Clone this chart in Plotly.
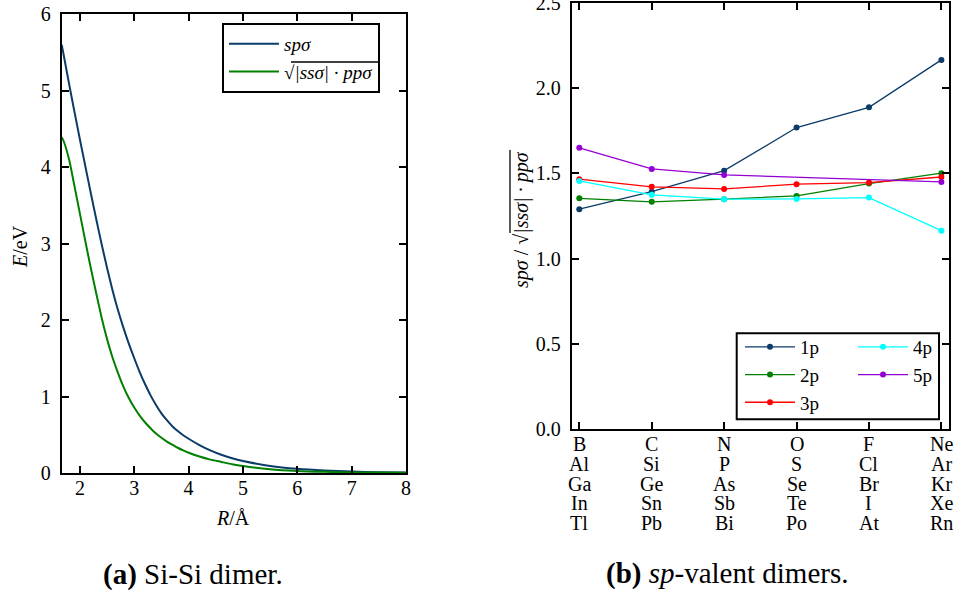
import plotly.graph_objects as go

# ---- (a) Si-Si dimer: hopping integrals vs. bond length ----
R = [1.665, 1.7, 1.8, 1.9, 2.0, 2.1, 2.2, 2.3, 2.4, 2.5, 2.6, 2.7, 2.8, 2.9, 3.0,
     3.1, 3.2, 3.3, 3.4, 3.5, 3.6, 3.7, 3.8, 3.9, 4.0, 4.2, 4.4, 4.6, 4.8, 5.0,
     5.5, 6.0, 6.5, 7.0, 7.5, 8.0]
sp_sigma = [5.60, 5.47, 5.09, 4.72, 4.36, 4.01, 3.66, 3.32, 2.99, 2.68, 2.39, 2.13,
            1.90, 1.69, 1.50, 1.32, 1.16, 1.015, 0.89, 0.78, 0.69, 0.612, 0.548,
            0.494, 0.448, 0.365, 0.295, 0.238, 0.193, 0.157, 0.092, 0.054, 0.032,
            0.019, 0.011, 0.006]
ss_pp_geo = [4.39, 4.34, 4.10, 3.75, 3.39, 3.03, 2.68, 2.35, 2.03, 1.75, 1.51, 1.31,
             1.13, 0.98, 0.855, 0.75, 0.66, 0.585, 0.515, 0.46, 0.41, 0.37, 0.33,
             0.295, 0.265, 0.215, 0.175, 0.145, 0.115, 0.092, 0.050, 0.027, 0.015,
             0.008, 0.005, 0.003]

# ---- (b) sp-valent dimers: ratio per group, one series per period ----
groups = [0, 1, 2, 3, 4, 5]
element_rows = [
    ["B", "C", "N", "O", "F", "Ne"],
    ["Al", "Si", "P", "S", "Cl", "Ar"],
    ["Ga", "Ge", "As", "Se", "Br", "Kr"],
    ["In", "Sn", "Sb", "Te", "I", "Xe"],
    ["Tl", "Pb", "Bi", "Po", "At", "Rn"],
]
series_names = ["1p", "2p", "3p", "4p", "5p"]
ratio_1p = [1.290, 1.393, 1.516, 1.769, 1.888, 2.166]
ratio_2p = [1.354, 1.333, 1.349, 1.368, 1.440, 1.501]
ratio_3p = [1.466, 1.421, 1.409, 1.437, 1.446, 1.479]
ratio_4p = [1.456, 1.374, 1.349, 1.350, 1.358, 1.164]
ratio_5p = [1.650, 1.526, 1.491, None, None, 1.450]
series_values = [ratio_1p, ratio_2p, ratio_3p, ratio_4p, ratio_5p]

DARK_BLUE = "#0b3b68"
GREEN = "#008000"
series_colors = [DARK_BLUE, GREEN, "#ff0000", "#00ffff", "#9400d3"]
series_legend = ["legend2", "legend2", "legend2", "legend3", "legend3"]

FONT = "Liberation Serif, DejaVu Serif, serif"
FS = 20
LEG_FS = 19
W, H = 957, 595


def px_x(p):
    return p / W


def px_y(p):
    return (H - p) / H


sqrt_label = "√<i>|ssσ| · ppσ</i>"

fig = go.Figure()

fig.add_trace(go.Scatter(x=R, y=sp_sigma, mode="lines", name="<i>spσ</i>",
                         line=dict(color=DARK_BLUE, width=2, shape="spline", smoothing=0.6),
                         xaxis="x", yaxis="y", legend="legend"))
fig.add_trace(go.Scatter(x=R, y=ss_pp_geo, mode="lines", name=sqrt_label,
                         line=dict(color=GREEN, width=2, shape="spline", smoothing=0.6),
                         xaxis="x", yaxis="y", legend="legend"))

for name, vals, col, lg in zip(series_names, series_values, series_colors, series_legend):
    fig.add_trace(go.Scatter(x=groups, y=vals, mode="lines+markers", name=name,
                             connectgaps=True,
                             line=dict(color=col, width=1.3),
                             marker=dict(color=col, size=6),
                             xaxis="x2", yaxis="y2", legend=lg))

axis_common = dict(showline=True, linecolor="black", linewidth=2, mirror="allticks",
                   ticks="inside", ticklen=7, tickwidth=1.5, tickcolor="black",
                   showgrid=False, zeroline=False, automargin=False,
                   ticklabeloverflow="allow",
                   tickfont=dict(family=FONT, size=FS, color="black"))

legend_common = dict(xanchor="left", yanchor="top", font=dict(family=FONT, size=LEG_FS),
                     itemwidth=50, tracegroupgap=0, bgcolor="rgba(0,0,0,0)")

fig.update_layout(
    width=W, height=H, template="none",
    paper_bgcolor="white", plot_bgcolor="white",
    margin=dict(l=0, r=0, t=0, b=0),
    font=dict(family=FONT, size=FS, color="black"),
    xaxis=dict(domain=[px_x(61.7), px_x(406)], range=[1.665, 8], tickvals=[2, 3, 4, 5, 6, 7, 8],
               anchor="y", ticklabelstandoff=-4, **axis_common),
    yaxis=dict(domain=[px_y(473), px_y(14)], range=[0, 6], dtick=1,
               anchor="x", ticklabelstandoff=5, **axis_common),
    xaxis2=dict(domain=[px_x(571.7), px_x(949)], range=[-0.105, 5.105], tickvals=groups,
                showticklabels=False, anchor="y2", **axis_common),
    yaxis2=dict(domain=[px_y(429), px_y(3)], range=[0, 2.5], dtick=0.5,
                tickformat=".1f", anchor="x2", ticklabelstandoff=5, **axis_common),
    legend=dict(x=px_x(222), y=px_y(23), bordercolor="black", borderwidth=2,
                **legend_common),
    legend2=dict(x=px_x(740), y=px_y(328), borderwidth=0, **legend_common),
    legend3=dict(x=px_x(853), y=px_y(328), borderwidth=0, **legend_common),
)

# frame enclosing both legend columns of panel (b)
fig.add_shape(type="rect", xref="paper", yref="paper",
              x0=px_x(736.7), x1=px_x(939), y0=px_y(419.3), y1=px_y(333.3),
              line=dict(color="black", width=2), fillcolor="rgba(0,0,0,0)", layer="below")

# radical bars over |ssσ| · ppσ (legend entry and rotated axis title)
fig.add_shape(type="line", xref="paper", yref="paper",
              x0=px_x(291), x1=px_x(378), y0=px_y(62), y1=px_y(62),
              line=dict(color="black", width=1.3))
fig.add_shape(type="line", xref="paper", yref="paper",
              x0=px_x(510), x1=px_x(510), y0=px_y(150), y1=px_y(233),
              line=dict(color="black", width=1.3))

# stacked element labels below each group of panel (b)
for r, row in enumerate(element_rows):
    for g, el in zip(groups, row):
        fig.add_annotation(x=g, y=0, xref="x2", yref="y2", text=el, showarrow=False,
                           yshift=-15 - 19.8 * r, yanchor="middle", xanchor="center",
                           font=dict(family=FONT, size=FS, color="black"))

text_notes = [
    # (text, x_px, y_px, angle, size)
    ("<i>E</i>/eV", 20, 247, -90, FS),
    ("<i>R</i>/Å", 233, 518, 0, FS),
    ("<i>spσ</i> / " + sqrt_label, 521, 220, -90, FS),
    ("<b>(a)</b> Si-Si dimer.", 193, 574, 0, 29),
    ("<b>(b)</b> <i>sp</i>-valent dimers.", 727, 573, 0, 29),
]
for txt, xp, yp, ang, size in text_notes:
    fig.add_annotation(x=px_x(xp), y=px_y(yp), xref="paper", yref="paper", text=txt,
                       textangle=ang, showarrow=False, xanchor="center", yanchor="middle",
                       font=dict(family=FONT, size=size, color="black"))

fig.write_html("out.html")
